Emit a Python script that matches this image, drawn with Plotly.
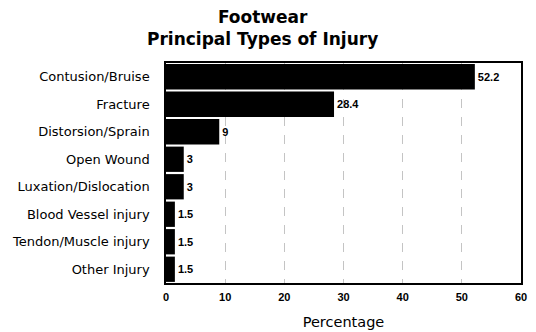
import plotly.graph_objects as go

# Injury categories and their share of footwear-related injuries (%)
categories = [
    "Contusion/Bruise",
    "Fracture",
    "Distorsion/Sprain",
    "Open Wound",
    "Luxation/Dislocation",
    "Blood Vessel injury",
    "Tendon/Muscle injury",
    "Other Injury",
]
percentages = [52.2, 28.4, 9, 3, 3, 1.5, 1.5, 1.5]
value_labels = ["52.2", "28.4", "9", "3", "3", "1.5", "1.5", "1.5"]
x_ticks = [0, 10, 20, 30, 40, 50, 60]

sans = "Liberation Sans, Arial, sans-serif"
wide = "DejaVu Sans, Verdana, sans-serif"

fig = go.Figure(
    go.Bar(
        x=percentages,
        y=categories,
        orientation="h",
        marker=dict(color="#000000", line=dict(width=0)),
        text=[f"<b>{t}</b>" for t in value_labels],
        textposition="outside",
        textfont=dict(family=sans, size=11, color="#000000"),
        cliponaxis=False,
    )
)

fig.update_layout(
    width=536,
    height=332,
    margin=dict(l=166, r=15, t=63, b=49),
    paper_bgcolor="white",
    plot_bgcolor="white",
    bargap=0.08,
    showlegend=False,
    title=dict(
        text="<b>Footwear<br>Principal Types of Injury</b>",
        x=0.49,
        xanchor="center",
        yref="container",
        y=0.93,
        yanchor="middle",
        font=dict(family=wide, size=17, color="#000000"),
    ),
    font=dict(family=sans, color="#000000"),
)

fig.update_xaxes(
    range=[0, 60],
    tickvals=x_ticks,
    ticktext=[f"<b>{v}</b>" for v in x_ticks],
    tickfont=dict(family=sans, size=11, color="#000000"),
    ticklabelstandoff=3,
    showline=True,
    linecolor="#000000",
    linewidth=1.5,
    mirror=True,
    ticks="",
    showgrid=True,
    gridcolor="#c4c4c4",
    gridwidth=1,
    griddash="dash",
    zeroline=False,
    automargin=False,
    title=dict(
        text="Percentage",
        font=dict(family=wide, size=14.5, color="#000000"),
        standoff=15,
    ),
)

fig.update_yaxes(
    categoryorder="array",
    categoryarray=categories[::-1],
    tickfont=dict(family=wide, size=13, color="#000000"),
    showline=True,
    linecolor="#000000",
    linewidth=1.5,
    mirror=True,
    ticks="",
    ticklabelstandoff=12,
    showgrid=False,
    automargin=False,
)

fig.write_html("out.html")
